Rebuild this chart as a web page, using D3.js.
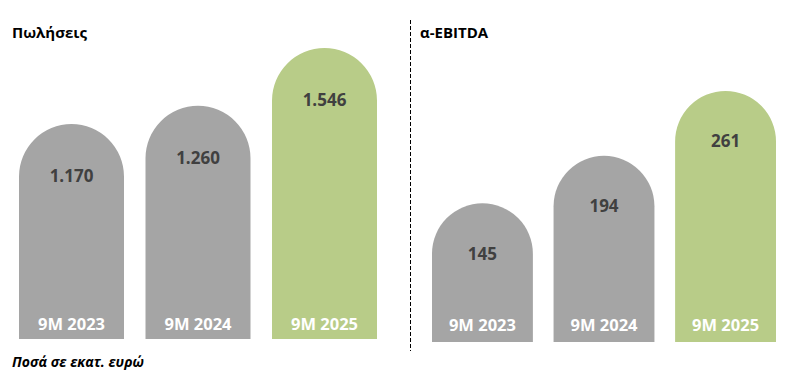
<!DOCTYPE html>
<html>
<head>
<meta charset="utf-8">
<script src="https://cdn.jsdelivr.net/npm/d3@7/dist/d3.min.js"></script>
<style>
  html, body { margin: 0; padding: 0; background: #fff; }
  svg { display: block; }
</style>
</head>
<body>
<svg id="chart" width="801" height="382"></svg>
<script>
const categories = ["9M 2023", "9M 2024", "9M 2025"];
const salesValues = [1170, 1260, 1546];
const salesLabels = ["1.170", "1.260", "1.546"];
const ebitdaValues = [145, 194, 261];
const ebitdaLabels = ["145", "194", "261"];
const titles = ["Πωλήσεις", "α-EBITDA"];
const footnote = "Ποσά σε εκατ. ευρώ";

const GRAY = "#A5A5A5";
const GREEN = "#B8CC88";
const FONT = "'Open Sans', sans-serif";

const svg = d3.select("#chart");

function panel(cfg) {
  const x = d3.scaleBand().domain(categories).range(cfg.xRange).paddingInner(0.17).paddingOuter(0);
  const y = d3.scaleLinear().domain([0, cfg.yMax]).range(cfg.yRange);
  const g = svg.append("g");
  const bw = x.bandwidth();
  const r = bw / 2;
  const data = categories.map((c, i) => ({ c, v: cfg.values[i], label: cfg.labels[i], i }));

  g.selectAll("path.bar").data(data).join("path")
    .attr("class", "bar")
    .attr("fill", d => d.i === 2 ? GREEN : GRAY)
    .attr("d", d => {
      const x0 = x(d.c), x1 = x0 + bw, top = y(d.v), b = cfg.base;
      const p = d3.path();
      p.moveTo(x0, b);
      p.lineTo(x0, top + r);
      p.arc(x0 + r, top + r, r, Math.PI, 2 * Math.PI);
      p.lineTo(x1, b);
      p.closePath();
      return p.toString();
    });

  g.selectAll("text.val").data(data).join("text")
    .attr("class", "val")
    .attr("x", d => x(d.c) + r)
    .attr("y", d => y(d.v) + r)
    .attr("dy", "0.35em")
    .attr("text-anchor", "middle")
    .attr("font-family", FONT)
    .attr("font-weight", 700)
    .attr("font-size", 17)
    .attr("fill", "#404040")
    .text(d => d.label);

  g.selectAll("text.cat").data(data).join("text")
    .attr("class", "cat")
    .attr("x", d => x(d.c) + r)
    .attr("y", cfg.catY)
    .attr("text-anchor", "middle")
    .attr("font-family", FONT)
    .attr("font-weight", 700)
    .attr("font-size", 16.5)
    .attr("fill", "#ffffff")
    .text(d => d.c);

  svg.append("text")
    .attr("x", cfg.titleX)
    .attr("y", 38)
    .attr("font-family", FONT)
    .attr("font-weight", 700)
    .attr("font-size", 15)
    .attr("fill", "#000")
    .text(cfg.title);
}

panel({
  values: salesValues, labels: salesLabels, title: titles[0], titleX: 12,
  xRange: [19, 377], yMax: 1546, yRange: [360.5, 48], base: 339, catY: 329.5
});
panel({
  values: ebitdaValues, labels: ebitdaLabels, title: titles[1], titleX: 420,
  xRange: [432, 776], yMax: 261, yRange: [343.7, 91], base: 342, catY: 331
});

svg.append("line")
  .attr("x1", 410.5).attr("x2", 410.5)
  .attr("y1", 20).attr("y2", 351)
  .attr("stroke", "#000").attr("stroke-width", 1)
  .attr("stroke-dasharray", "4,2");

svg.append("text")
  .attr("x", 12)
  .attr("y", 367)
  .attr("font-family", FONT)
  .attr("font-weight", 700)
  .attr("font-style", "italic")
  .attr("font-size", 14)
  .attr("fill", "#000")
  .text(footnote);
</script>
</body>
</html>
